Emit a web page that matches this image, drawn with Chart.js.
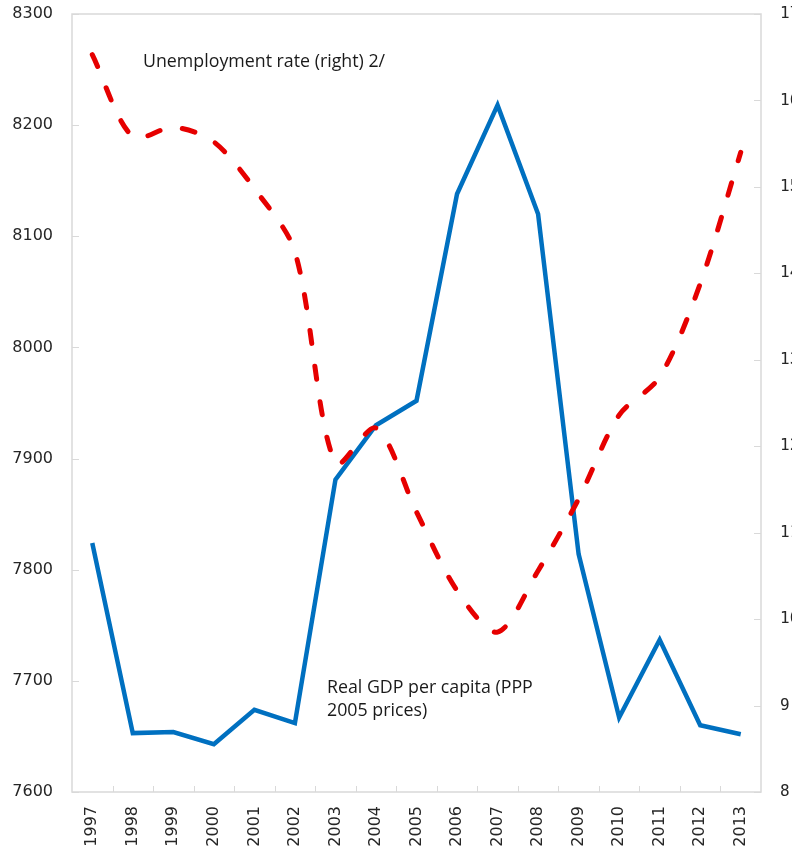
<!DOCTYPE html>
<html>
<head>
<meta charset="utf-8">
<script src="https://cdn.jsdelivr.net/npm/chart.js@4.4.1/dist/chart.umd.min.js"></script>
<style>
html,body{margin:0;padding:0;background:#fff;overflow:hidden;width:792px;height:849px;}
#wrap{position:absolute;left:0;top:0;width:810px;height:849px;}
</style>
</head>
<body>
<div id="wrap"><canvas id="c" width="810" height="849"></canvas></div>
<script>
const years = ['1997','1998','1999','2000','2001','2002','2003','2004','2005','2006','2007','2008','2009','2010','2011','2012','2013'];
const gdpPerCapita = [7824, 7653, 7654, 7643, 7674, 7662, 7881, 7930, 7952, 8138, 8218, 8120, 7814, 7667, 7737, 7660, 7652];
const unemploymentRate = [16.53, 15.58, 15.69, 15.52, 14.98, 14.25, 11.80, 12.21, 11.24, 10.33, 9.85, 10.56, 11.39, 12.36, 12.80, 13.88, 15.40];
const leftTicks = [7600, 7700, 7800, 7900, 8000, 8100, 8200, 8300];
const rightTicks = [8, 9, 10, 11, 12, 13, 14, 15, 16, 17];
const gdpLabel = ['Real GDP per capita (PPP', '2005 prices)'];
const unempLabel = 'Unemployment rate (right) 2/';

const frameColor = '#d9d9d9';
const CANVAS_W = 810, CANVAS_H = 849;
const AREA = {left: 72, right: 761, top: 14, bottom: 792};

const framePlugin = {
  id: 'frame',
  beforeDatasetsDraw(chart) {
    const {ctx, chartArea: a, scales} = chart;
    ctx.save();
    ctx.strokeStyle = frameColor;
    ctx.lineWidth = 1.5;
    ctx.strokeRect(a.left, a.top, a.right - a.left, a.bottom - a.top);
    ctx.lineWidth = 1;
    ctx.beginPath();
    scales.y.ticks.forEach(t => {
      const py = Math.round(scales.y.getPixelForValue(t.value)) + 0.5;
      ctx.moveTo(a.left, py); ctx.lineTo(a.left + 7, py);
    });
    scales.y2.ticks.forEach(t => {
      const py = Math.round(scales.y2.getPixelForValue(t.value)) + 0.5;
      ctx.moveTo(a.right - 7, py); ctx.lineTo(a.right, py);
    });
    for (let i = 1; i < years.length; i++) {
      const px = Math.round((scales.x.getPixelForValue(i - 1) + scales.x.getPixelForValue(i)) / 2) + 0.5;
      ctx.moveTo(px, a.bottom); ctx.lineTo(px, a.bottom - 6);
    }
    ctx.stroke();
    ctx.restore();
  },
  afterDraw(chart) {
    const {ctx} = chart;
    ctx.save();
    ctx.fillStyle = '#1a1a1a';
    ctx.font = '17.8px "Open Sans"';
    ctx.textBaseline = 'middle';
    ctx.textAlign = 'left';
    ctx.fillText(unempLabel, 143, 62);
    ctx.fillText(gdpLabel[0], 327, 688);
    ctx.fillText(gdpLabel[1], 327, 711);
    ctx.restore();
  }
};

const tickFont = {family: '"DejaVu Sans"', size: 16};

new Chart(document.getElementById('c'), {
  type: 'line',
  data: {
    labels: years,
    datasets: [
      {
        label: 'Real GDP per capita',
        data: gdpPerCapita,
        yAxisID: 'y',
        borderColor: '#0070C0',
        borderWidth: 4.5,
        pointRadius: 0,
        tension: 0,
        borderJoinStyle: 'miter',
        order: 1
      },
      {
        label: 'Unemployment rate',
        data: unemploymentRate,
        yAxisID: 'y2',
        borderColor: '#E60000',
        borderWidth: 5,
        borderDash: [13, 23],
        borderCapStyle: 'round',
        pointRadius: 0,
        tension: 0.3,
        order: 0
      }
    ]
  },
  options: {
    responsive: false,
    animation: false,
    devicePixelRatio: 1,
    layout: {padding: {left: 0, right: 0, top: AREA.top, bottom: 0}},
    plugins: {legend: {display: false}, tooltip: {enabled: false}},
    scales: {
      x: {
        offset: true,
        grid: {display: false, drawTicks: false},
        border: {display: false},
        ticks: {
          autoSkip: false, minRotation: 90, maxRotation: 90, padding: 14,
          color: '#262626', font: tickFont
        },
        afterFit(s) { s.height = CANVAS_H - AREA.bottom; s.paddingLeft = 0; s.paddingRight = 0; }
      },
      y: {
        position: 'left',
        min: 7600, max: 8300,
        afterBuildTicks(s) { s.ticks = leftTicks.map(v => ({value: v})); },
        grid: {display: false, drawTicks: false},
        border: {display: false},
        ticks: {padding: 19, color: '#262626', font: tickFont, callback: v => String(v)},
        afterFit(s) { s.width = AREA.left; s.paddingTop = 0; s.paddingBottom = 0; }
      },
      y2: {
        position: 'right',
        min: 8, max: 17,
        afterBuildTicks(s) { s.ticks = rightTicks.map(v => ({value: v})); },
        grid: {display: false, drawTicks: false},
        border: {display: false},
        ticks: {padding: 19, color: '#262626', font: {family: '"DejaVu Sans Mono"', size: 16}, callback: v => String(v)},
        afterFit(s) { s.width = CANVAS_W - AREA.right; s.paddingTop = 0; s.paddingBottom = 0; }
      }
    }
  },
  plugins: [framePlugin]
});
</script>
</body>
</html>
